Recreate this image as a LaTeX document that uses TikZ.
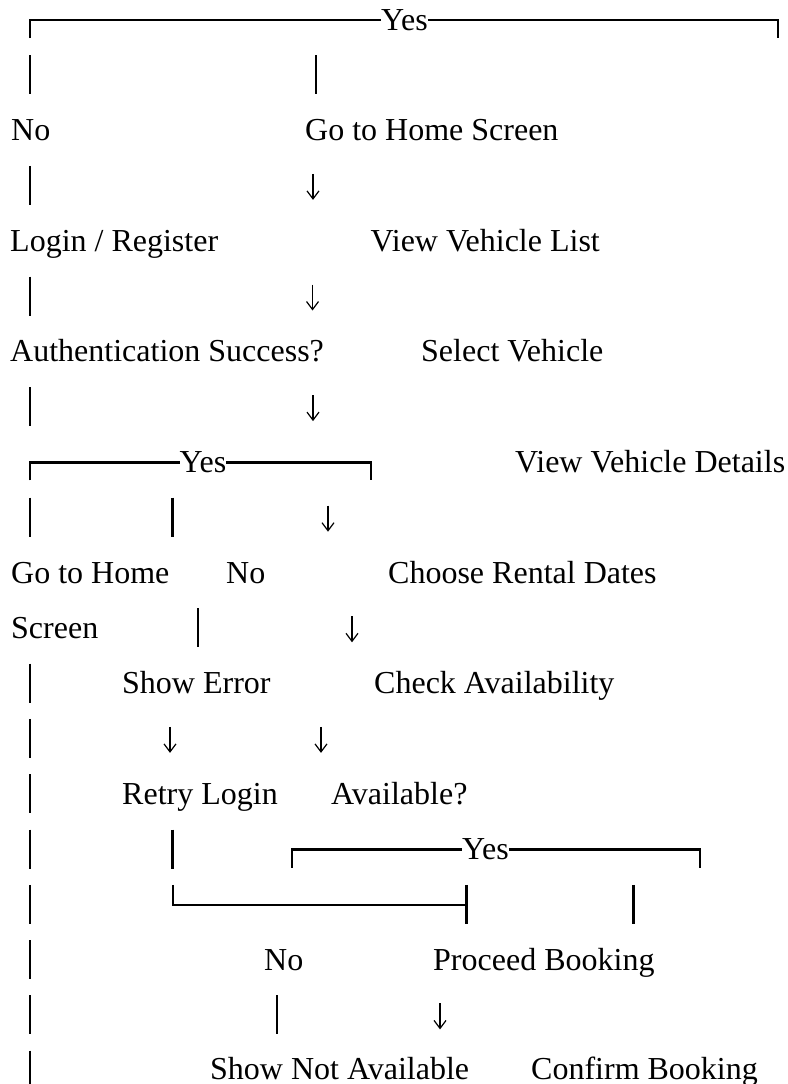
\documentclass[tikz,border=0pt]{standalone}
\usepackage{fontspec}
\setmainfont{Liberation Serif}
\usetikzlibrary{arrows.meta}

\tikzset{
  txt/.style={anchor=base west, inner sep=0pt, font=\fontsize{32}{38}\selectfont},
  vbar/.style={line width=2.8pt},
  hbar/.style={line width=2.3pt},
  darrow/.style={line width=1.2pt, -{Straight Barb[length=8pt,width=12pt]}},
}

\begin{document}
\begin{tikzpicture}[x=1pt,y=-1pt]
  \useasboundingbox (0,0) rectangle (787,1084);
  % texts, one baseline every 55.3
  \node[txt] (yesA) at (381,30) {Yes};
  \node[txt] (noA) at (11,140.6) {No};
  \node[txt] (home) at (305,140.6) {Go to Home Screen};
  \node[txt] (login) at (10,251.2) {Login / Register};
  \node[txt] (list) at (370.5,251.2) {View Vehicle List};
  \node[txt] (auth) at (10,361.8) {Authentication Success?};
  \node[txt] (select) at (421,361.8) {Select Vehicle};
  \node[txt] (yesB) at (179.5,472.4) {Yes};
  \node[txt] (details) at (515,472.4) {View Vehicle Details};
  \node[txt] (homeA) at (11,583) {Go to Home};
  \node[txt] (noB) at (226,583) {No};
  \node[txt] (dates) at (388,583) {Choose Rental Dates};
  \node[txt] (homeB) at (11,638.3) {Screen};
  \node[txt] (error) at (122,693.6) {Show Error};
  \node[txt] (check) at (374,693.6) {Check Availability};
  \node[txt] (retry) at (122,804.2) {Retry Login};
  \node[txt] (avail) at (331,804.2) {Available?};
  \node[txt] (yesC) at (462,859.5) {Yes};
  \node[txt] (noC) at (264,970.1) {No};
  \node[txt] (proceed) at (433,970.1) {Proceed Booking};
  \node[txt] (notavail) at (210,1079.5) {Show Not Available};
  \node[txt] (confirm) at (531,1079.5) {Confirm Booking};
  % brackets
  \draw[hbar] (30,38) -- (30,20) -- ([yshift=10pt]yesA.base west);
  \draw[hbar] ([yshift=10pt]yesA.base east) -- (778,20) -- (778,38);
  \draw[hbar] (30,480.4) -- (30,462.4) -- ([yshift=10pt]yesB.base west);
  \draw[hbar] ([yshift=10pt]yesB.base east) -- (371,462.4) -- (371,480.4);
  \draw[hbar] (291.7,867.5) -- (291.7,849.5) -- ([yshift=10pt]yesC.base west);
  \draw[hbar] ([yshift=10pt]yesC.base east) -- (699.7,849.5) -- (699.7,867.5);
  \draw[hbar] (172.7,884.8) -- (172.7,904.8) -- (466.7,904.8);
  \draw[vbar] (466.7,884.8) -- (466.7,923.8);
  % bars
  \foreach \b in {85.3,195.9,306.5,417.1,527.7,693.6,748.9,804.2,859.5,914.8,970.1,1025.4,1080.7}
    \draw[vbar] (30,{\b-30}) -- (30,{\b+9});
  \draw[vbar] (316,55.3) -- (316,94.3);
  \draw[vbar] (172.7,497.7) -- (172.7,536.7);
  \draw[vbar] (198,608.3) -- (198,647.3);
  \draw[vbar] (172.7,829.5) -- (172.7,868.5);
  \draw[vbar] (633.7,884.8) -- (633.7,923.8);
  \draw[vbar] (277,995.4) -- (277,1034.4);
  % arrows
  \draw[darrow] (313,173.9) -- (313,199.9);
  \draw[darrow] (312.5,284.5) -- (312.5,310.5);
  \draw[darrow] (313,395.1) -- (313,421.1);
  \draw[darrow] (328,505.7) -- (328,531.7);
  \draw[darrow] (352,616.3) -- (352,642.3);
  \draw[darrow] (170,726.9) -- (170,752.9);
  \draw[darrow] (321,726.9) -- (321,752.9);
  \draw[darrow] (440,1003.4) -- (440,1029.4);
\end{tikzpicture}
\end{document}
